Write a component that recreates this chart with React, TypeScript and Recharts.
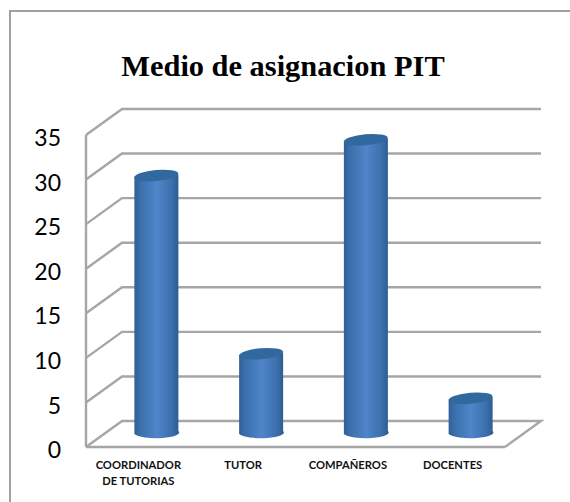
import React from "react";
import { BarChart, Bar, XAxis, YAxis, CartesianGrid } from "recharts";

const categories = ["COORDINADOR DE TUTORIAS", "TUTOR", "COMPAÑEROS", "DOCENTES"];
const values = [29, 9, 33, 4];
const yTicks = [0, 5, 10, 15, 20, 25, 30, 35];

const data = categories.map((name, i) => ({ name, value: values[i] }));

// depth of the fake 3D floor
const DX = 36;
const DY = 26;
const PLOT_BOTTOM = 447;

function GridLine(props: any) {
    const { x1, x2, y1 } = props;
    // the zero line also closes the floor on the right
    const floor = Math.abs(y1 - PLOT_BOTTOM) < 1 ? ` ${x2},${y1}` : "";
    return (
        <polyline
            points={`${x1},${y1} ${x1 + DX},${y1 - DY} ${x2 + DX},${y1 - DY}${floor}`}
            fill="none"
            stroke="#a6a6a6"
            strokeWidth={2.4}
        />
    );
}

function Cylinder(props: any) {
    const { x, y, width, height } = props;
    const rx = width / 2;
    const ry = 5.5;
    const left = x + DX / 2;
    const top = y - DY / 2;
    const bottom = top + height;
    return (
        <g>
            <path
                d={`M${left},${top + 1} L${left},${bottom} A${rx},${ry} 0 0 0 ${left + width},${bottom - 3} L${left + width},${top - 1} Z`}
                fill="url(#cyl)"
            />
            <ellipse cx={left + rx} cy={top} rx={rx} ry={ry} transform={`rotate(-5 ${left + rx} ${top})`} fill="#31699f" />
        </g>
    );
}

function CategoryTick(props: any) {
    const { x, y, payload } = props;
    const words: string[] = payload.value.startsWith("COORDINADOR") ? ["COORDINADOR", "DE TUTORIAS"] : [payload.value];
    return (
        <text x={x} y={y} textAnchor="middle" fontFamily="Lato" fontWeight={700} fontSize={11.2} fill="#111">
            {words.map((w, i) => (
                <tspan key={i} x={x} dy={i === 0 ? 0 : 16}>{w}</tspan>
            ))}
        </text>
    );
}

export default function App() {
    return (
        <div style={{ position: "absolute", left: 0, top: 0, width: 570, height: 502, background: "#fff", overflow: "hidden" }}>
            <div style={{ position: "absolute", left: 9, top: 10, width: 580, height: 520, border: "2px solid #a0a0a0" }} />
            <div
                style={{
                    position: "absolute",
                    left: 0,
                    width: 566,
                    top: 49,
                    textAlign: "center",
                    fontFamily: "'Liberation Serif'",
                    fontWeight: 700,
                    fontSize: 30.4,
                    color: "#000",
                }}
            >
                Medio de asignacion PIT
            </div>
            <BarChart
                width={570}
                height={502}
                data={data}
                margin={{ top: 135, right: 65, bottom: 25, left: 0 }}
                barCategoryGap="29%"
                style={{ position: "absolute", left: 0, top: 0 }}
            >
                <defs>
                    <linearGradient id="cyl" x1="0" y1="0" x2="1" y2="0">
                        <stop offset="0%" stopColor="#2f5f97" />
                        <stop offset="12%" stopColor="#3a6eab" />
                        <stop offset="50%" stopColor="#4f86c9" />
                        <stop offset="85%" stopColor="#3a6eab" />
                        <stop offset="100%" stopColor="#2c5a8f" />
                    </linearGradient>
                </defs>
                <CartesianGrid vertical={false} horizontal={<GridLine />} />
                <XAxis
                    dataKey="name"
                    height={30}
                    axisLine={{ stroke: "#a6a6a6", strokeWidth: 2.4 }}
                    tickLine={false}
                    interval={0}
                    tick={<CategoryTick />}
                    tickMargin={16}
                />
                <YAxis
                    width={86}
                    domain={[0, 35]}
                    ticks={yTicks}
                    axisLine={{ stroke: "#a6a6a6", strokeWidth: 2.4 }}
                    tickLine={false}
                    tickMargin={19}
                    tick={{ fontFamily: "Lato", fontSize: 23, fill: "#000", dy: 3 }}
                />
                <Bar dataKey="value" isAnimationActive={false} shape={<Cylinder />} />
            </BarChart>
        </div>
    );
}
